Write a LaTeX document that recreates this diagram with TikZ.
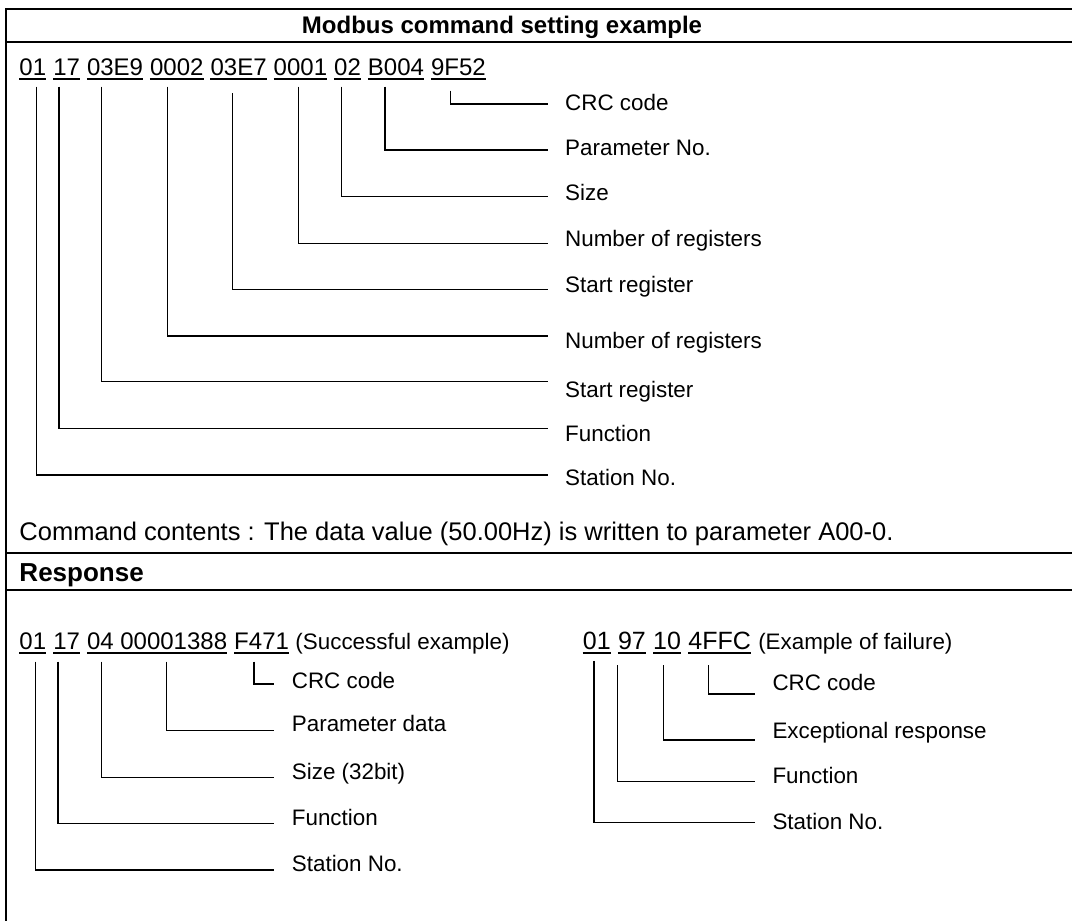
\documentclass[tikz,border=0pt]{standalone}
\usepackage{fontspec}
\setmainfont{Liberation Sans}
\usetikzlibrary{calc,positioning}
\tikzset{
  leader/.style={line width=1.2pt},
  tablerule/.style={line width=2pt},
  field/.style={font=\fontsize{24}{28}\selectfont,inner sep=0pt,anchor=base west,text depth=0pt,
    append after command={([yshift=-3.5pt]\tikzlastnode.base west) edge[leader] ([yshift=-3.5pt]\tikzlastnode.base east)}},
  bigfield/.style={field,font=\fontsize{25}{29}\selectfont},
  note/.style={font=\fontsize{22.4}{26}\selectfont,inner sep=0pt,anchor=base west}
}
\newcommand{\fieldnote}[8]{% {field}{dx}{drop}{label}{x}{base y}{line y}{text}
  \node[note] (#4) at (#5,#6) {#8};
  \draw[leader] ($(#1.base west)+(#2,#3)$) |- ($(#4.base west)+(-17.5,#7-#6)$);
}

\begin{document}
\begin{tikzpicture}[x=1pt,y=-1pt]
  \useasboundingbox (0,0) rectangle (1072,921);
  % Table rules
  \draw[tablerule] (1072,9) -- (6,9) -- (6,921);
  \draw[tablerule] (6,42) -- (1072,42);
  \draw[tablerule] (6,552.7) -- (1072,552.7);
  \draw[tablerule] (6,590) -- (1072,590);
  \node[font=\fontsize{24}{28}\selectfont\bfseries,inner sep=0pt,anchor=base] (title) at (502,33.6) {Modbus command setting example};
  % Command frame
  \node[field] (c01) at (19.3,75.5) {01};
  \node[field,base right=6.67pt of c01] (c17) {17};
  \node[field,base right=6.67pt of c17] (c03E9) {03E9};
  \node[field,base right=6.67pt of c03E9] (c0002) {0002};
  \node[field,base right=6.67pt of c0002] (c03E7) {03E7};
  \node[field,base right=6.67pt of c03E7] (c0001) {0001};
  \node[field,base right=6.67pt of c0001] (c02) {02};
  \node[field,base right=6.67pt of c02] (cB004) {B004};
  \node[field,base right=6.67pt of cB004] (c9F52) {9F52};
  \fieldnote{c9F52}{19.5}{15}{crc}{565}{110}{104}{CRC code}
  \fieldnote{cB004}{17.2}{11.2}{parno}{565}{155}{150}{Parameter No.}
  \fieldnote{c02}{7.6}{11.2}{size}{565}{200}{196.7}{Size}
  \fieldnote{c0001}{24.6}{11.2}{wnum}{565}{246.7}{243.3}{Number of registers}
  \fieldnote{c03E7}{22.3}{17.5}{wstart}{565}{292.5}{289.3}{Start register}
  \fieldnote{c0002}{17.3}{11.2}{rnum}{565}{348}{336}{Number of registers}
  \fieldnote{c03E9}{15}{11.2}{rstart}{565}{397.5}{381.7}{Start register}
  \fieldnote{c17}{6}{11.2}{func}{565}{441.7}{428.3}{Function}
  \fieldnote{c01}{17.4}{11.2}{station}{565}{485.8}{475}{Station No.}
  \node[font=\fontsize{25.5}{30}\selectfont,inner sep=0pt,anchor=base west] (contents) at (19.3,540.6) {Command contents : The data value (50.00Hz) is written to parameter A00-0.};
  % Response
  \node[font=\fontsize{26}{30}\selectfont\bfseries,inner sep=0pt,anchor=base west] (resp) at (19.3,581) {Response};
  % Successful example
  \node[field] (r01) at (19.3,649.5) {01};
  \node[field,base right=6.67pt of r01] (r17) {17};
  \node[field,base right=6.67pt of r17] (rdata) {04 00001388};
  \node[field,base right=6.67pt of rdata] (rF471) {F471};
  \node[note,base right=6.1pt of rF471] (okcase) {(Successful example)};
  \fieldnote{rF471}{19.9}{12.2}{okcrc}{291.7}{688.5}{684}{CRC code}
  \fieldnote{rdata}{79.7}{12.2}{okdata}{291.7}{731.7}{730.7}{Parameter data}
  \fieldnote{rdata}{14.7}{12.2}{oksize}{291.7}{779}{777.3}{Size (32bit)}
  \fieldnote{r17}{5}{12.2}{okfunc}{291.7}{825}{823.3}{Function}
  \fieldnote{r01}{16.4}{12.2}{okstation}{291.7}{871.7}{870}{Station No.}
  % Example of failure
  \node[bigfield] (q01) at (582.7,649.5) {01};
  \node[bigfield,base right=6.95pt of q01] (q97) {97};
  \node[bigfield,base right=6.95pt of q97] (q10) {10};
  \node[bigfield,base right=6.95pt of q10] (q4FFC) {4FFC};
  \node[note,base right=7pt of q4FFC] (ngcase) {(Example of failure)};
  \fieldnote{q4FFC}{20.7}{15.7}{ngcrc}{772.3}{690.7}{694}{CRC code}
  \fieldnote{q10}{10.5}{15.7}{ngcode}{772.3}{738.5}{740}{Exceptional response}
  \fieldnote{q97}{0}{15.7}{ngfunc}{772.3}{783.3}{781.3}{Function}
  \fieldnote{q01}{11.3}{11.4}{ngstation}{772.3}{829.5}{822.7}{Station No.}
\end{tikzpicture}
\end{document}
